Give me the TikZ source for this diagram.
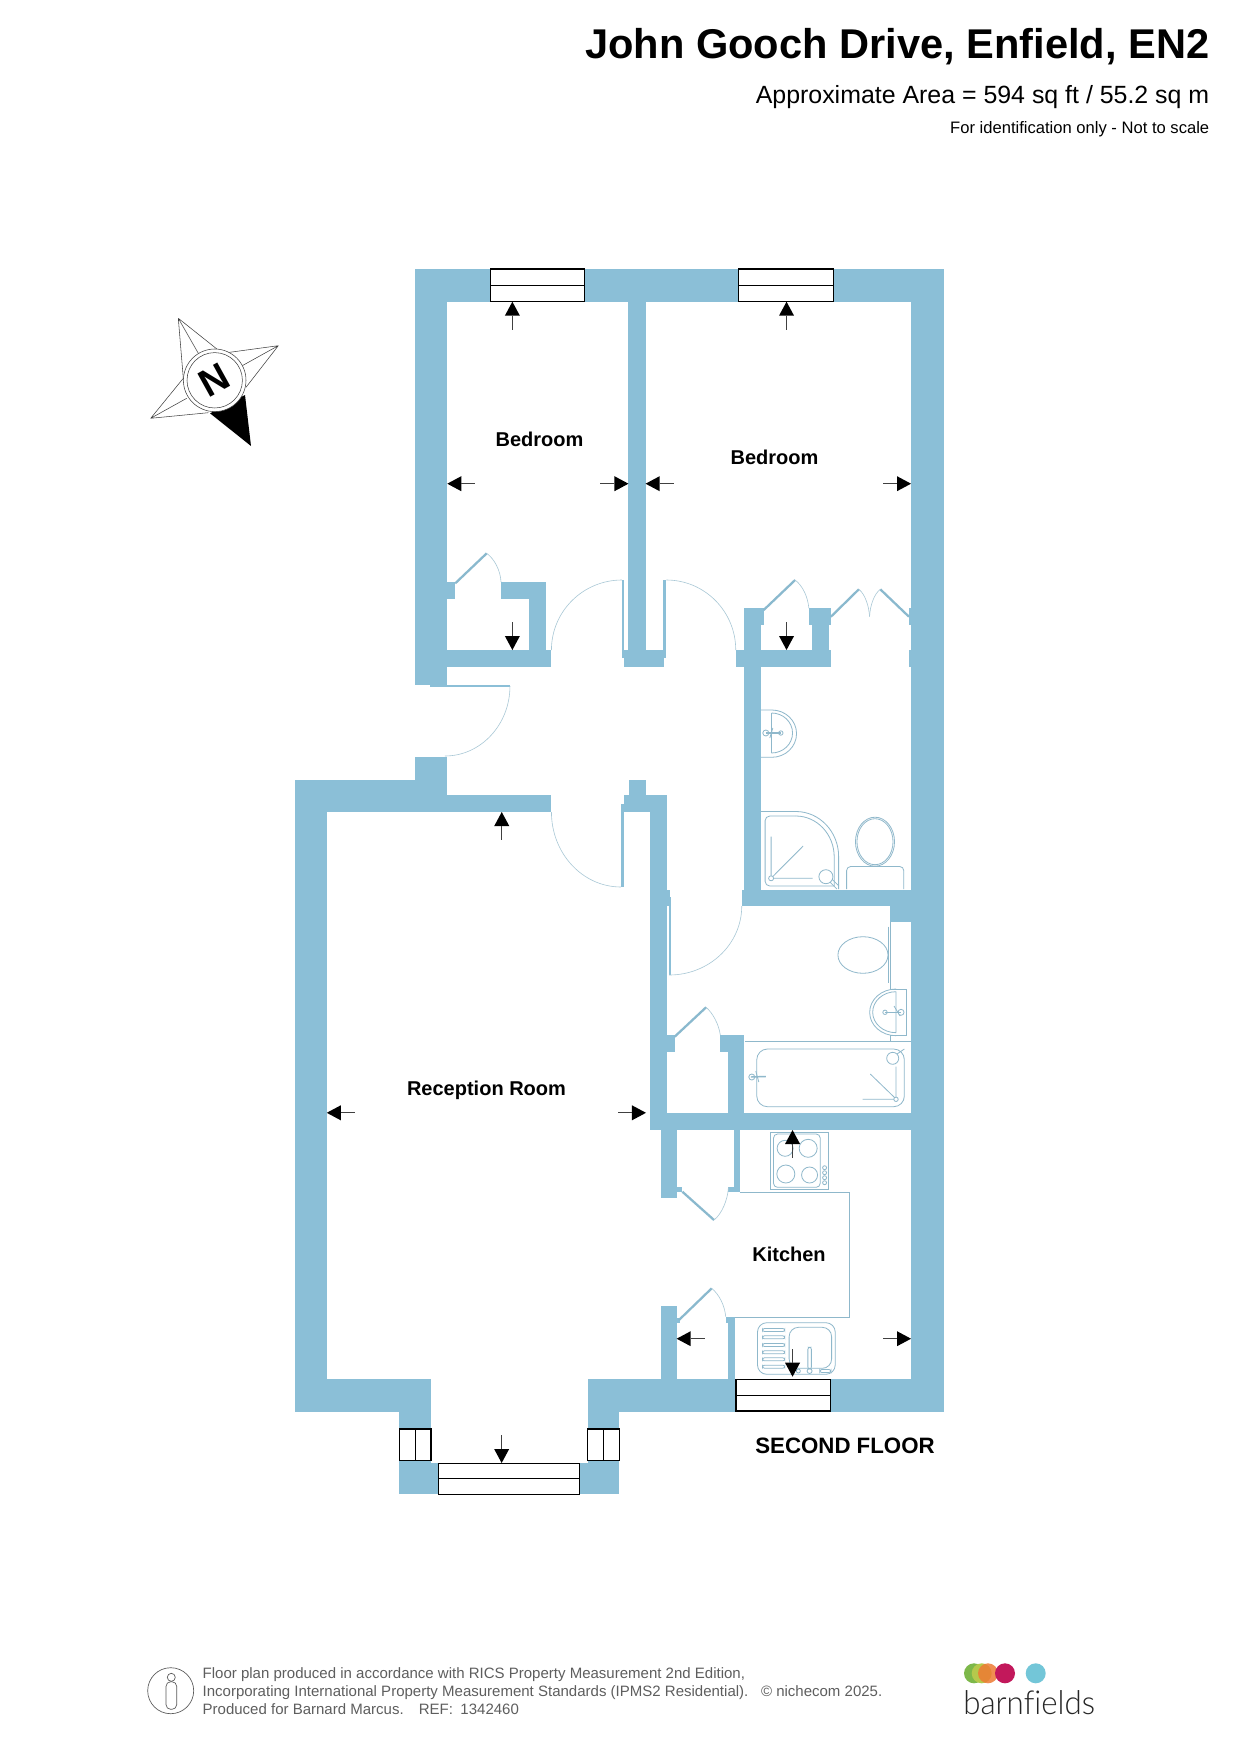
\documentclass[tikz,border=0pt]{standalone}
\usepackage{fontspec}
\setmainfont{Liberation Sans}
\newfontfamily\logofont[FakeStretch=0.95]{Lato Light}
\definecolor{wallc}{HTML}{8BBFD7}
\definecolor{fixc}{HTML}{8FB8CB}
\definecolor{swingc}{HTML}{A9C8D6}
\definecolor{footc}{HTML}{5E5E5E}
\definecolor{dotg}{HTML}{7DB84A}
\definecolor{dotl}{HTML}{B5C94C}
\definecolor{doto}{HTML}{EE7B33}
\definecolor{dotr}{HTML}{C2185B}
\definecolor{dott}{HTML}{73C6D8}
\tikzset{
  wall/.style={fill=wallc,draw=none},
  glass/.style={fill=white,draw=black,line width=0.85pt},
  leaf/.style={draw=wallc!90!gray,line width=1.7pt},
  swing/.style={draw=swingc,line width=0.45pt},
  fix/.style={draw=fixc,line width=0.6pt},
  rooml/.style={font=\bfseries\fontsize{15pt}{18pt}\selectfont,inner sep=0pt},
  foot/.style={font=\fontsize{11.26pt}{14pt}\selectfont,text=footc,inner sep=0pt,anchor=base west},
  star/.style={draw=black!75,line width=0.4pt}
}
\newcommand{\dimarrow}[3]{%
  \fill[black,shift={(#1,#2)},rotate=#3] (0,0)--(14,-7.5)--(14,7.5)--cycle;
  \draw[black!75,line width=0.5pt,shift={(#1,#2)},rotate=#3] (14,0)--(28,0);}
\begin{document}
\begin{tikzpicture}[x=0.75pt,y=-0.75pt]
\useasboundingbox (0,0) rectangle (1241,1755);
\fill[white] (0,0) rectangle (1241,1755);
\begin{scope}[shift={(-0.5,0)},xscale=1.0017]
% walls
\foreach \a/\b/\c/\d in {
 414.3/269/942.7/301.7, 414.3/269/447/685, 430/684/447/687, 447/684.5/509.6/686.5,
 414.3/756.7/447/812, 294.7/780/447/812, 447/795.3/551/812,
 294.7/780/326.7/1411.7, 294.7/1379/430.7/1411.7, 399.3/1411.7/430.7/1429,
 399.3/1460.3/430.7/1494.3, 430.7/1463.3/438.3/1494.3,
 579.3/1463.3/587/1494.3, 587/1460.3/618.7/1494.3, 587/1411.7/618.7/1429,
 587/1379/735.3/1411.7, 829.3/1379/942.7/1411.7, 735.3/1379/829.3/1411.7,
 910/269/942.7/1411.7,
 627.9/301.7/645/650, 621.4/650/665.7/658, 623/658/663/666.7,
 621.4/580/623.6/650, 662.5/580/665.7/650,
 628/780/645/795.3, 623/795.3/666/812, 620/804/623.6/887,
 649/795.3/666/1130,
 666/890/669.6/906, 667.9/897/670.7/975,
 741/890/910/906, 743/608.3/760/906, 735/650/830/666.7,
 743/608.3/762.9/625, 808/608.3/830/625, 811.4/625/827.9/650,
 907.9/608.3/910/625, 907.9/650/910/666.7, 888.6/906/910/921.7,
 447/650/551/666.7, 529/582/546/650, 500.7/582/546/599, 447/582/455/599,
 666/1035/674/1051.7, 719.6/1035/743.6/1051.7, 727.5/1051.7/743.6/1113.3,
 649/1113.3/910/1130,
 660/1130/676/1197.7, 733.3/1130/739/1191.7, 676/1186.7/681.7/1192.3, 727.7/1186.7/739/1192.3,
 660/1306/676/1379.3, 676/1318/679/1322.7, 725/1316.7/734/1322.7, 727.7/1322.7/734/1379.3}
 {\fill[wall] (\a,\b) rectangle (\c,\d);}
% windows
\foreach \a/\b/\c/\d in {490.4/269/584.3/301.7, 738/269/832.5/301.7, 735.3/1379.3/829.3/1411, 438.3/1463.3/579.3/1494.3}
 {\draw[glass] (\a,\b) rectangle (\c,\d); \draw[black,line width=0.85pt] (\a,{(\b+\d)/2}) -- (\c,{(\b+\d)/2});}
\foreach \a/\b/\c/\d in {399.3/1429/430.7/1460.3, 587/1429/618.7/1460.3}
 {\draw[glass] (\a,\b) rectangle (\c,\d); \draw[black,line width=0.85pt] ({(\a+\c)/2},\b) -- ({(\a+\c)/2},\d);}
% door leaves
\draw[leaf] (455,583.3)--(486.4,553.3);
\draw[leaf] (762.9,610)--(794.3,580);
\draw[leaf] (830,616.7)--(857.9,589.3);
\draw[leaf] (879.3,589.3)--(907.9,616.7);
\draw[leaf] (674,1036.7)--(705.4,1007.3);
\draw[leaf] (681.7,1191.7)--(713.3,1220);
\draw[leaf] (678.3,1320)--(711,1288.3);
% door swings
\draw[swing] (551,650) arc[start angle=180,end angle=270,x radius=70.4,y radius=70];
\draw[swing] (665.7,580) arc[start angle=270,end angle=360,x radius=69.3,y radius=70];
\draw[swing] (509.6,686) arc[start angle=0,end angle=90,x radius=65,y radius=70];
\draw[swing] (551,812) arc[start angle=180,end angle=90,x radius=69.4,y radius=75];
\draw[swing] (741,906) arc[start angle=0,end angle=90,x radius=72.4,y radius=69];
\draw[swing] (486.4,553.3) .. controls (494,559) and (500,570) .. (500.7,582);
\draw[swing] (794.3,580) .. controls (802,586) and (807,597) .. (808,608.3);
\draw[swing] (857.9,589.3) .. controls (864,594) and (868,606) .. (868.6,616.7);
\draw[swing] (879.3,589.3) .. controls (873,594) and (869,606) .. (868.6,616.7);
\draw[swing] (705.4,1007.3) .. controls (712,1013) and (718,1024) .. (719.6,1035);
\draw[swing] (713.3,1220) .. controls (721,1214) and (727,1200) .. (727.7,1187.3);
\draw[swing] (711,1288.3) .. controls (718,1294) and (724,1305) .. (725,1316.7);
% shower room basin
\draw[fix] (760,710)--(771,710) arc[start angle=270,end angle=450,x radius=24.7,y radius=23.65]--(760,757.3);
\draw[fix] (770.7,713)--(770.7,753) (770.7,713) arc[start angle=270,end angle=450,x radius=21,y radius=20];
\draw[fix,line width=1.2pt] (765,733)--(780,733);
\draw[fix] (765,733) circle[radius=3] (780,733) circle[radius=2.2] (769,738)--(772,728);
% shower
\draw[fix] (760,811.5)--(795,811.5) arc[start angle=270,end angle=360,x radius=42.7,y radius=45]--(837.7,889);
\draw[fix,rounded corners=3.5] (833.3,886)--(764.3,886)--(764.3,816)--(795,816);
\draw[fix] (795,816) arc[start angle=270,end angle=360,x radius=38.3,y radius=41]--(833.3,886);
\draw[fix] (770.3,878.3) circle[radius=2.5] (770.3,875)--(770.3,836.7) (773,878.3)--(811.7,878.3) (772,876.5)--(802.3,846);
\draw[fix] (825,876.7) circle[radius=7] (829,882)--(836,889) (832,880)--(838,886);
% WC
\draw[fix,rounded corners=3] (845.7,889)--(845.7,866.5)--(902.7,866.5)--(902.7,889);
\draw[fix] (874,841.7) ellipse[x radius=19.5,y radius=24.5];
\draw[fix] (874,841.7) ellipse[x radius=18,y radius=23];
% bathroom WC
\draw[fix] (862,955) ellipse[x radius=25,y radius=18.3];
\draw[fix] (889,921.7)--(889,989) (887,926.7)--(887,983);
% bathroom basin
\draw[fix] (889,989)--(905.7,989)--(905.7,1035.7)--(889,1035.7);
\draw[fix] (895,989) arc[start angle=270,end angle=90,x radius=26.3,y radius=23.35];
\draw[fix] (895,991.7)--(895,1032.7) (895,991.7) arc[start angle=270,end angle=90,x radius=23.3,y radius=20.5];
\draw[fix,line width=1.2pt] (884,1012.3)--(900,1012.3);
\draw[fix] (884,1012.3) circle[radius=2.2] (900,1012.3) circle[radius=3] (893,1006)--(899,1016);
% bath
\draw[fix] (744,1041.3)--(910,1041.3) (889,1035.7)--(889,1041.3);
\draw[fix,rounded corners=8] (756,1049) rectangle (903.3,1106.7);
\draw[fix] (895,1099.3) circle[radius=2.2] (895,1097)--(895,1066.7) (893,1099.3)--(861.7,1099.3) (893.5,1097.5)--(869.3,1074);
\draw[fix] (891.7,1058.3) circle[radius=6] (896,1054)--(903.3,1049);
\draw[fix,line width=1.1pt] (750,1077)--(765,1076.5);
\draw[fix] (751,1077) circle[radius=3] (755,1071)--(758,1082);
% hob
\draw[fix] (769.3,1132.3) rectangle (827.7,1189.3);
\draw[fix,rounded corners=3] (772.7,1134) rectangle (819.3,1187.3);
\draw[fix] (784.3,1148.3) circle[radius=8] (807.3,1148.3) circle[radius=9] (785,1174) circle[radius=9] (808.7,1175) circle[radius=8];
\foreach \k in {1167.7,1172.7,1177.7,1182.7} {\draw[fix] (823.7,\k) circle[radius=2];}
% worktop
\draw[fix] (739,1192.3)--(848.7,1192.3)--(848.7,1317.3)--(734,1317.3);
% kitchen sink
\draw[fix,rounded corners=7] (756.7,1322.7) rectangle (834.3,1374.3);
\draw[fix,rounded corners=7] (788.3,1327.3) rectangle (830.7,1368.3);
\foreach \k in {1330,1337.3,1345,1352.3,1359.3,1366.7} {\draw[fix,rounded corners=1.5] (761.7,\k-1.5) rectangle (784,\k+1.5);}
\draw[fix,rounded corners=1.5] (807,1347.3) rectangle (810.5,1369);
\draw[fix] (808.7,1371) circle[radius=2.5] (797.5,1371) circle[radius=2];
\draw[fix,rounded corners=1.5] (819,1369.5) rectangle (830,1372.5);
% dimension arrows
\dimarrow{512}{301.7}{-90}
\dimarrow{447}{483.7}{0}
\dimarrow{627.9}{483.7}{180}
\dimarrow{512}{650}{90}
\dimarrow{785.7}{301.7}{-90}
\dimarrow{645}{483.7}{0}
\dimarrow{910}{483.7}{180}
\dimarrow{785.7}{650}{90}
\dimarrow{501.4}{812}{-90}
\dimarrow{326.7}{1112.8}{0}
\dimarrow{645.4}{1112.8}{180}
\dimarrow{501.3}{1463}{90}
\dimarrow{791.7}{1130}{-90}
\dimarrow{791.7}{1376.7}{90}
\dimarrow{676}{1338.7}{0}
\dimarrow{910}{1338.7}{180}
\end{scope}
% room labels
\node[rooml] (bedone) at (539.5,439.5) {Bedroom};
\node[rooml] (bedtwo) at (774.5,457.5) {Bedroom};
\node[rooml] (recept) at (486.5,1090.5) {Reception Room};
\node[rooml] (kitch) at (789,1254.5) {Kitchen};
\node[inner sep=0pt,font=\bfseries\fontsize{16.7pt}{20pt}\selectfont] (floorl) at (845,1445.5) {SECOND FLOOR};
% header
\node[anchor=base east,inner sep=0pt,font=\bfseries\fontsize{31.2pt}{36pt}\selectfont] (title) at (1209.5,58.5) {John Gooch Drive, Enfield, EN2};
\node[anchor=base east,inner sep=0pt,font=\fontsize{18.68pt}{22pt}\selectfont] (area) at (1209.5,103.3) {Approximate Area = 594 sq ft / 55.2 sq m};
\node[anchor=base east,inner sep=0pt,font=\fontsize{12.44pt}{15pt}\selectfont] (ident) at (1209.5,133.2) {For identification only - Not to scale};
% compass
\fill[black] (251,446)--(210,413.3)--(245,395)--cycle;
\draw[star] (178.3,318.3)--(219,350.7) (178.3,318.3)--(183.3,378.3) (178.3,318.3)--(198.3,353.3);
\draw[star] (278.3,345.7)--(226.7,352.7) (278.3,345.7)--(246,387.3) (278.3,345.7)--(241.7,366);
\draw[star] (150.7,418.3)--(183.3,378.3) (150.7,418.3)--(208.3,412.7) (150.7,418.3)--(186.7,398.3);
\draw[fill=white,star] (214.7,380.3) circle[radius=31.3];
\draw[star] (214.7,380.3) circle[radius=27.7];
\node[rotate=29,inner sep=0pt,font=\bfseries\fontsize{29pt}{32pt}\selectfont] (north) at (214.7,380.3) {N};
% footer
\draw[black!65,line width=0.5pt] (170.7,1690.7) circle[radius=23];
\draw[black!65,line width=0.5pt] (171.3,1677.3) circle[radius=4];
\draw[black!65,line width=0.5pt,rounded corners=3.5] (166,1681.7) rectangle (176.7,1709.3);
\node[foot] (foota) at (202.4,1678) {Floor plan produced in accordance with RICS Property Measurement 2nd Edition,};
\node[foot] (footb) at (202.4,1696) {Incorporating International Property Measurement Standards (IPMS2 Residential).\hspace{9.5pt}© nichecom 2025.};
\node[foot] (footc) at (202.4,1714) {Produced for Barnard Marcus.\quad REF:\enspace 1342460};
% logo
\fill[dotg] (974,1673.3) circle[radius=10];
\fill[dotl] (981.7,1673.3) circle[radius=10];
\fill[doto,fill opacity=0.85] (988,1673.3) circle[radius=10];
\fill[dotr] (1005,1673.3) circle[radius=10];
\fill[dott] (1035.7,1673.3) circle[radius=10];
\node[anchor=base west,inner sep=0pt,text=black!85,font=\logofont\fontsize{24.7pt}{28pt}\selectfont] (logo) at (963,1714.3) {barnf\kern0pt ields};
\end{tikzpicture}
\end{document}
